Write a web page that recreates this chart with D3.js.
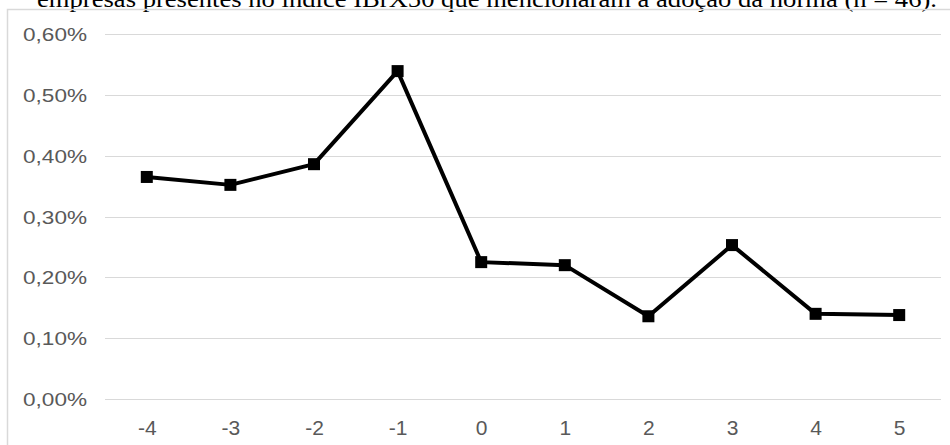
<!DOCTYPE html>
<html>
<head>
<meta charset="utf-8">
<script src="https://cdn.jsdelivr.net/npm/d3@7"></script>
<style>
  html, body { margin: 0; padding: 0; background: #fff; }
  svg { display: block; }
</style>
</head>
<body>
<svg id="chart" width="950" height="445"></svg>
<script>
const categories = ["-4", "-3", "-2", "-1", "0", "1", "2", "3", "4", "5"];
const values = [0.365, 0.352, 0.386, 0.539, 0.225, 0.220, 0.136, 0.253, 0.140, 0.138];
const yTicks = [0, 0.1, 0.2, 0.3, 0.4, 0.5, 0.6];
const titleText = "empresas presentes no índice IBrX50 que mencionaram a adoção da norma (n = 46).";

const svg = d3.select("#chart");
const W = 950, H = 445;
const plot = { left: 105, right: 941, top: 34, bottom: 399 };

// caption (partly clipped at top, as in the reference)
svg.append("text")
  .attr("x", 37).attr("y", 7)
  .attr("font-family", "'Liberation Serif', 'Times New Roman', serif")
  .attr("font-size", 23)
  .attr("fill", "#000")
  .attr("textLength", 900)
  .attr("lengthAdjust", "spacingAndGlyphs")
  .text(titleText);

// chart frame
svg.append("path")
  .attr("d", `M7.5,${H} V9.5 H${W}`)
  .attr("fill", "none")
  .attr("stroke", "#d9d9d9")
  .attr("stroke-width", 1.5);

const x = d3.scalePoint().domain(categories).range([plot.left, plot.right]).padding(0.5);
const y = d3.scaleLinear().domain([0, 0.6]).range([plot.bottom, plot.top]);

// gridlines
svg.append("g").selectAll("line").data(yTicks).join("line")
  .attr("x1", plot.left).attr("x2", plot.right)
  .attr("y1", d => Math.round(y(d)) + 0.5).attr("y2", d => Math.round(y(d)) + 0.5)
  .attr("stroke", "#d9d9d9").attr("stroke-width", 1.2);

// y axis labels
const fmt = d => d.toFixed(2).replace(".", ",") + "%";
const yAxis = d3.axisLeft(y).tickValues(yTicks).tickFormat(fmt).tickSize(0).tickPadding(0);
const yg = svg.append("g").attr("transform", "translate(87,0)").call(yAxis);
yg.select(".domain").remove();
yg.selectAll("text")
  .attr("font-family", "'Liberation Sans', Arial, sans-serif")
  .attr("font-size", 19)
  .attr("fill", "#595959")
  .attr("dy", "0.35em")
  .attr("textLength", 64)
  .attr("lengthAdjust", "spacingAndGlyphs");

// x axis labels
const xAxis = d3.axisBottom(x).tickSize(0).tickPadding(0);
const xg = svg.append("g").attr("transform", "translate(0,420)").call(xAxis);
xg.select(".domain").remove();
xg.selectAll("text")
  .attr("font-family", "'Liberation Sans', Arial, sans-serif")
  .attr("font-size", 21)
  .attr("fill", "#595959")
  .attr("dy", "0.71em");

// line
const data = categories.map((c, i) => ({ c, v: values[i] }));
svg.append("path")
  .datum(data)
  .attr("fill", "none")
  .attr("stroke", "#000")
  .attr("stroke-width", 4)
  .attr("stroke-linejoin", "round")
  .attr("d", d3.line().x(d => x(d.c)).y(d => y(d.v)));

// markers
const ms = 12;
svg.append("g").selectAll("rect").data(data).join("rect")
  .attr("x", d => x(d.c) - ms / 2)
  .attr("y", d => y(d.v) - ms / 2)
  .attr("width", ms).attr("height", ms)
  .attr("fill", "#000");
</script>
</body>
</html>
